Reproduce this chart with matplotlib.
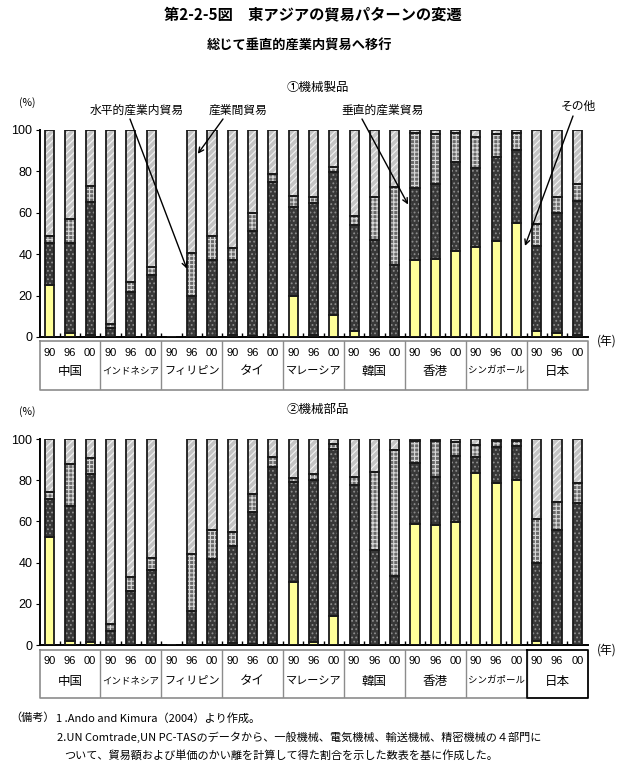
import numpy as np
import matplotlib
matplotlib.use("Agg")
import matplotlib.pyplot as plt

plt.rcParams['font.family'] = ['Noto Sans CJK JP', 'DejaVu Sans']
plt.rcParams['hatch.linewidth'] = 0.8

countries = ["中国", "インドネシア", "フィリピン", "タイ", "マレーシア", "韓国", "香港", "シンガポール", "日本"]
years = ["90", "96", "00"]
legend_labels = ["その他", "垂直的産業内貿易", "水平的産業内貿易", "産業間貿易"]

nan = np.nan
# ① 機械製品 (%)  order: China90,96,00, Indonesia..., Philippines..., Thai..., Malaysia..., Korea..., HK..., Singapore..., Japan...
p1_other = [25, 2, 1,   0, 0, 0,   nan, 0, 0,   1, 0.5, 1,   19.7, 1, 10.5,   2.7, 0, 0,
            37, 37.6, 41.5,   43.5, 46.5, 55.2,   3, 2, 1]
p1_vertical = [20.5, 43.6, 64,   4.5, 21.8, 30,   nan, 19.7, 37.4,   36.4, 50.8, 73.7,   42.9, 63.5, 69.3,
               51.3, 47, 34.7,   34.8, 36.4, 42.9,   38, 40.3, 35.1,   41, 57.7, 64.6]
p1_horizontal = [3.2, 11.4, 8,   2, 4.7, 4,   nan, 20.9, 11.6,   5.6, 8.4, 4,   5.4, 3, 2.5,
                 4.4, 20.7, 37.9,   26.6, 24, 14,   15.3, 11.2, 8.4,   10.4, 7.7, 8.1]
p1_inter = [51.3, 43, 27,   93.5, 73.5, 66,   nan, 59.4, 51,   57, 40.3, 21.3,   32, 32.5, 17.7,
            41.6, 32.3, 27.4,   1.6, 2, 1.6,   3.2, 2, 1.3,   45.6, 32.6, 26.3]

# ② 機械部品 (%)
p2_other = [52.3, 2.1, 1.3,   0, 0, 0,   nan, 0, 0,   1.1, 0.6, 0.6,   30.7, 1.6, 14.2,   0, 0, 0,
            58.6, 58.3, 59.5,   83.3, 78.5, 80.1,   1.9, 0, 0]
p2_vertical = [18.4, 65.4, 81.5,   6.8, 26.2, 36.4,   nan, 16.5, 41.7,   47.1, 63.8, 86,   48.3, 78.5, 80.8,
               77.7, 46.1, 33.7,   29.6, 23.1, 32.2,   8.1, 17.8, 16.7,   38.1, 56, 68.8]
p2_horizontal = [3.4, 20.2, 8.2,   3.6, 7, 5.6,   nan, 27.7, 14,   6.5, 8.7, 4.8,   2.2, 2.7, 2.4,
                 3.7, 37.7, 61,   10.8, 17.8, 7,   5.7, 2.7, 2.2,   21, 13.6, 9.7]
p2_inter = [25.9, 12.3, 9,   89.6, 66.8, 58,   nan, 55.8, 44.3,   45.3, 26.9, 8.6,   18.8, 17.2, 2.6,
            18.6, 16.2, 5.3,   1, 0.8, 1.3,   2.9, 1, 1,   39, 30.4, 21.5]

W, H = 626, 768
fig = plt.figure(figsize=(W / 100, H / 100), dpi=100)

def fx(px):
    return px / W

def fy(py):
    return 1 - py / H

styles = [
    dict(face="#FFFF99", hatch=None, hc="#FFFF99"),
    dict(face="#383838", hatch="....", hc="#8c8c8c"),
    dict(face="#6a6a6a", hatch="++++", hc="#d8d8d8"),
    dict(face="#c4c4c4", hatch="/////", hc="#f4f4f4"),
]

x_left, x_right = 39.5, 587.5
n = len(p1_other)

def draw_panel(top_px, bot_px, series, title, title_y, table_top, table_bot, year_y, name_y, japan_box):
    ax = fig.add_axes([fx(x_left), fy(bot_px), fx(x_right - x_left), (bot_px - top_px) / H])
    x = np.arange(n)
    bottom = np.zeros(n)
    for vals, st in zip(series, styles):
        v = np.nan_to_num(np.array(vals, dtype=float))
        ax.bar(x, v, width=0.45, bottom=bottom, color=st["face"], hatch=st["hatch"],
               edgecolor=st["hc"], linewidth=0, zorder=2)
        ax.bar(x, v, width=0.45, bottom=bottom, fill=False, edgecolor="#1a1a1a",
               linewidth=1.3, zorder=3)
        bottom = bottom + v
    ax.set_xlim(-0.5, n - 0.5)
    ax.set_ylim(0, 100)
    ax.spines['top'].set_visible(False)
    ax.spines['right'].set_visible(False)
    ax.spines['left'].set_linewidth(1.4)
    ax.spines['bottom'].set_linewidth(1.4)
    ax.set_yticks([0, 20, 40, 60, 80, 100])
    ax.tick_params(axis='y', direction='out', length=3, labelsize=9, pad=2)
    for lab in ax.get_yticklabels():
        lab.set_fontfamily(['Liberation Sans', 'DejaVu Sans'])
    ax.set_xticks(np.arange(n - 1) + 0.5)
    ax.set_xticklabels([])
    ax.tick_params(axis='x', direction='in', length=3, width=1)
    ax.patch.set_alpha(0)

    fig.text(fx(318), fy(title_y), title, ha='center', va='center', fontsize=9)
    fig.text(fx(27), fy(top_px - 27), "(%)", ha='center', va='center', fontsize=7.5)
    fig.text(fx(607), fy(table_top), "(年)", ha='center', va='center', fontsize=8.5)

    # table under the axis
    at = fig.add_axes([fx(x_left), fy(table_bot), fx(x_right - x_left), (table_bot - table_top) / H])
    at.set_xlim(-0.5, n - 0.5)
    at.set_ylim(0, 1)
    at.axis('off')
    gc = "#8c8c8c"
    at.plot([-0.5, n - 0.5, n - 0.5, -0.5, -0.5], [1, 1, 0, 0, 1], color=gc, lw=1.2, clip_on=False)
    for b in range(1, len(countries)):
        at.plot([3 * b - 0.5, 3 * b - 0.5], [0, 1], color=gc, lw=1.0)
    if japan_box:
        at.plot([23.5, 26.5, 26.5, 23.5, 23.5], [1, 1, 0, 0, 1], color="black", lw=1.2, clip_on=False)
    ty = (table_bot - year_y) / (table_bot - table_top)
    ny = (table_bot - name_y) / (table_bot - table_top)
    for i in range(n):
        at.text(i, ty, years[i % 3], ha='center', va='center', fontsize=8,
                family=['Liberation Sans', 'DejaVu Sans'])
    for c, name in enumerate(countries):
        fs = 6.8 if len(name) >= 6 else (8 if len(name) >= 3 else 9)
        at.text(3 * c + 1, ny, name, ha='center', va='center', fontsize=fs)
    return ax

ax1 = draw_panel(130, 337, [p1_other, p1_vertical, p1_horizontal, p1_inter], "①機械製品", 88,
                 341, 390, 353, 371, False)
ax2 = draw_panel(439, 645, [p2_other, p2_vertical, p2_horizontal, p2_inter], "②機械部品", 409,
                 650, 698, 661, 681, True)

# annotations on panel 1
ann = [
    ("水平的産業内貿易", 137, 110, (130, 119), (6.76, 33)),
    ("産業間貿易", 238, 110, (223, 119), (7.3, 88.5)),
    ("垂直的産業貿易", 383, 110, (362, 119), (17.66, 64)),
    ("その他", 578, 106, (573, 116), (23.42, 44)),
]
for label, tx, ty, start, tip in ann:
    fig.text(fx(tx), fy(ty), label, ha='center', va='center', fontsize=8.5)
    ax1.annotate("", xy=tip, xycoords='data', xytext=(start[0], H - start[1]),
                 textcoords='figure pixels',
                 arrowprops=dict(arrowstyle='->', color='black', lw=1.0,
                                 shrinkA=0, shrinkB=0, mutation_scale=9),
                 annotation_clip=False, zorder=5)

# titles
fig.text(fx(313), fy(14), "第2-2-5図　東アジアの貿易パターンの変遷", ha='center', va='center',
         fontsize=11, fontweight='bold')
fig.text(fx(300), fy(45), "総じて垂直的産業内貿易へ移行", ha='center', va='center',
         fontsize=9.5, fontweight='bold')

# notes
fig.text(fx(10), fy(718), "（備考）", ha='left', va='center', fontsize=8)
fig.text(fx(56), fy(718), "1 .Ando and Kimura（2004）より作成。", ha='left', va='center', fontsize=8)
fig.text(fx(57), fy(737), "2.UN Comtrade,UN PC-TASのデータから、一般機械、電気機械、輸送機械、精密機械の４部門に",
         ha='left', va='center', fontsize=8)
fig.text(fx(64), fy(755), "ついて、貿易額および単価のかい離を計算して得た割合を示した数表を基に作成した。",
         ha='left', va='center', fontsize=8)

fig.savefig("out.png", dpi=100)
